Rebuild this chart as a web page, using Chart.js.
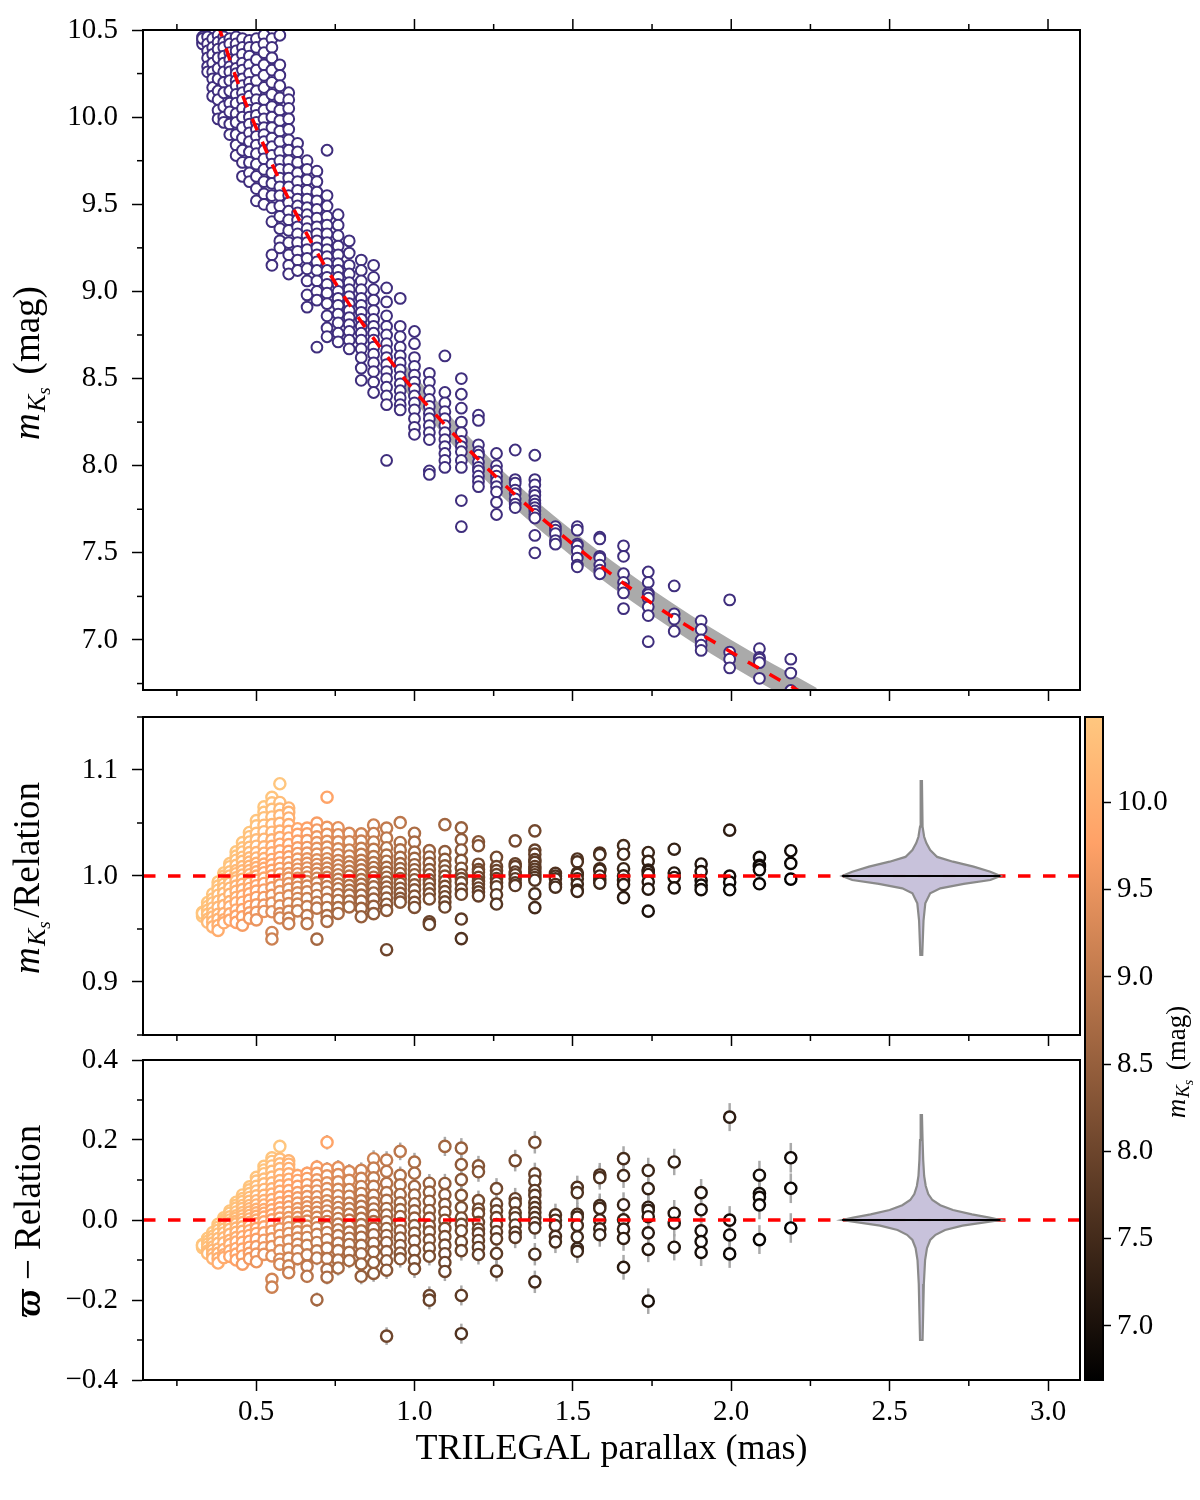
<!DOCTYPE html>
<html><head><meta charset="utf-8">
<script src="https://cdn.jsdelivr.net/npm/chart.js"></script>
<style>
html,body{margin:0;padding:0;background:#fff;}
#wrap{position:relative;width:1200px;height:1500px;background:#fff;}
canvas{position:absolute;}
</style></head><body>
<div id="wrap">
<canvas id="cTop" width="1200" height="710" style="left:0;top:0"></canvas>
<canvas id="cMid" width="1200" height="355" style="left:0;top:700px"></canvas>
<canvas id="cBot" width="1200" height="455" style="left:0;top:1045px"></canvas>
<canvas id="cBar" width="120" height="700" style="left:1080px;top:700px"></canvas>
</div>
<script>
// ---------------- DATA ----------------
// TRILEGAL parallax columns (mas)
const plxCols = [0.331,0.347,0.363,0.380,0.398,0.417,0.437,0.457,0.479,0.501,0.525,0.550,0.575,0.603,0.631,0.661,0.692,0.724,0.759,0.794,0.832,0.871,0.912,0.955,1.000,1.047,1.096,1.148,1.202,1.259,1.318,1.380,1.445,1.514,1.585,1.660,1.738,1.820,1.905,1.995,2.089,2.188];
// m_Ks values of the stars in each parallax column (mag)
const magCols = [
 [10.46,10.44,10.42,10.45],
 [10.46,10.42,10.38,10.34,10.29,10.26],
 [10.45,10.40,10.36,10.31,10.26,10.22,10.17,10.12],
 [10.47,10.43,10.39,10.34,10.28,10.22,10.15,10.10,10.04,9.99],
 [10.46,10.43,10.40,10.35,10.31,10.26,10.20,10.14,10.06,10.00,9.97],
 [10.45,10.42,10.37,10.33,10.29,10.26,10.21,10.15,10.08,10.03,9.96,9.90],
 [10.46,10.42,10.38,10.33,10.28,10.25,10.21,10.18,10.13,10.08,10.02,9.97,9.90,9.84,9.78],
 [10.45,10.40,10.36,10.31,10.27,10.22,10.18,10.14,10.10,10.05,10.00,9.94,9.88,9.81,9.74,9.66],
 [10.44,10.40,10.35,10.30,10.25,10.20,10.16,10.12,10.08,10.04,10.00,9.96,9.91,9.86,9.80,9.74,9.68,9.63],
 [10.45,10.40,10.33,10.27,10.21,10.15,10.10,10.05,10.01,9.97,9.93,9.89,9.84,9.79,9.73,9.66,9.59,9.52],
 [10.47,10.42,10.37,10.30,10.24,10.17,10.10,10.04,9.99,9.94,9.90,9.86,9.81,9.76,9.70,9.63,9.56,9.50],
 [10.45,10.40,10.34,10.27,10.20,10.13,10.06,10.00,9.94,9.88,9.83,9.78,9.73,9.68,9.62,9.55,9.48,9.40,9.21,9.15],
 [10.47,10.30,10.24,10.18,10.11,10.04,9.98,9.92,9.86,9.80,9.75,9.70,9.65,9.60,9.55,9.49,9.43,9.36,9.29,9.25],
 [10.14,10.10,10.05,9.99,9.93,9.87,9.81,9.75,9.70,9.65,9.60,9.55,9.51,9.46,9.41,9.35,9.28,9.21,9.15,9.10],
 [9.85,9.80,9.74,9.68,9.63,9.58,9.53,9.49,9.45,9.41,9.37,9.33,9.28,9.23,9.18,9.12],
 [9.75,9.70,9.64,9.58,9.53,9.48,9.44,9.40,9.36,9.32,9.28,9.24,9.19,9.13,9.06,8.98,8.91],
 [9.69,9.63,9.57,9.52,9.47,9.42,9.37,9.33,9.29,9.25,9.21,9.17,9.12,9.06,9.00,8.95,8.68],
 [9.81,9.55,9.49,9.43,9.38,9.33,9.28,9.24,9.20,9.16,9.12,9.08,9.04,8.99,8.93,8.86,8.79,8.74],
 [9.44,9.38,9.32,9.26,9.21,9.16,9.12,9.08,9.04,9.00,8.96,8.92,8.87,8.82,8.76,8.71],
 [9.29,9.22,9.15,9.10,9.05,9.01,8.97,8.93,8.89,8.85,8.81,8.77,8.72,8.67],
 [9.18,9.12,9.06,9.01,8.96,8.92,8.88,8.84,8.80,8.76,8.72,8.67,8.62,8.56,8.49],
 [9.15,9.08,9.01,8.95,8.89,8.84,8.80,8.76,8.72,8.68,8.64,8.59,8.54,8.48,8.42],
 [9.02,8.94,8.86,8.80,8.75,8.70,8.66,8.62,8.58,8.54,8.50,8.45,8.40,8.35,8.03],
 [8.96,8.80,8.74,8.68,8.63,8.59,8.55,8.51,8.47,8.43,8.39,8.35,8.32],
 [8.77,8.70,8.62,8.57,8.52,8.48,8.44,8.40,8.36,8.32,8.27,8.22,8.18],
 [8.53,8.48,8.43,8.38,8.34,8.30,8.27,8.23,8.19,8.15,7.97,7.95],
 [8.63,8.42,8.36,8.31,8.27,8.23,8.19,8.15,8.11,8.07,8.03,7.99],
 [8.50,8.41,8.33,8.25,8.19,8.14,8.11,8.08,8.03,7.99,7.80,7.65],
 [8.29,8.26,8.12,8.08,8.06,8.02,7.99,7.97,7.94,7.91,7.88],
 [8.07,8.00,7.97,7.94,7.91,7.88,7.85,7.79,7.72],
 [8.09,7.92,7.90,7.86,7.84,7.81,7.78,7.76],
 [8.06,7.92,7.89,7.85,7.83,7.80,7.78,7.76,7.74,7.72,7.70,7.60,7.50],
 [7.65,7.63,7.61,7.57,7.55],
 [7.65,7.63,7.55,7.54,7.51,7.47,7.43,7.42],
 [7.59,7.58,7.48,7.47,7.43,7.40,7.38],
 [7.54,7.48,7.38,7.33,7.30,7.27,7.18],
 [7.39,7.33,7.27,7.26,7.24,7.19,7.14,6.99],
 [7.31,7.15,7.12,7.05],
 [7.11,7.06,7.00,6.97,6.94],
 [7.23,6.93,6.89,6.84],
 [6.95,6.90,6.89,6.87,6.78],
 [6.89,6.81,6.71]
];
// parallax uncertainty per column (mas), grey error bars in the lowest panel
const errCols = [0.010,0.010,0.011,0.011,0.012,0.012,0.013,0.013,0.014,0.014,0.015,0.015,0.016,0.016,0.017,0.017,0.018,0.018,0.019,0.019,0.020,0.021,0.022,0.022,0.023,0.023,0.024,0.025,0.025,0.026,0.027,0.028,0.028,0.029,0.030,0.031,0.032,0.033,0.034,0.035,0.036,0.037];

// Relation (red dashed curve, top panel)
const relationPlx = [0.38,0.45,0.50,0.60,0.70,0.80,0.90,1.00,1.25,1.50,1.75,2.00,2.27];
const relationMag = [10.53,10.16,9.94,9.54,9.20,8.91,8.66,8.43,7.95,7.55,7.21,6.93,6.65];
// zero point of that relation: m = REL_ZP - 5 log10(parallax)
const REL_ZP = 8.43;
// grey uncertainty band around the relation
const bandPlx   = [0.95,1.25,1.50,1.75,2.00,2.27];
const bandUpper = [8.62,8.02,7.625,7.29,7.00,6.725];
const bandLower = [8.47,7.87,7.475,7.14,6.85,6.575];

// violin summaries (value, half width in parallax units)
const violinCenter = 2.6;
const violinMidVals = [1.0906,1.0465,1.037,1.031,1.0245,1.018,1.0135,1.0088,1.004,1.0,0.9962,0.9925,0.9884,0.9837,0.9742,0.958,0.9255];
const violinMidHalf = [0.002,0.004,0.009,0.016,0.028,0.05,0.10,0.165,0.218,0.25,0.218,0.134,0.06,0.028,0.0126,0.007,0.003];
const violinBotVals = [0.265,0.20,0.15,0.11,0.085,0.065,0.05,0.037,0.025,0.014,0.006,0.0,-0.006,-0.014,-0.025,-0.037,-0.05,-0.07,-0.10,-0.16,-0.23,-0.30];
const violinBotHalf = [0.002,0.004,0.006,0.009,0.014,0.022,0.035,0.06,0.10,0.16,0.215,0.25,0.20,0.13,0.075,0.045,0.028,0.018,0.012,0.008,0.006,0.004];
const violinMedianMid = 1.0;
const violinMedianBot = 0.0;
const refLineMid = 1.0;
const refLineBot = 0.0;

// axes
const xRange = [0.143, 3.101];
const yRangeTop = [6.713, 10.5];
const yRangeMid = [0.85, 1.15];
const yRangeBot = [-0.4, 0.4];
const cbarRange = [6.69, 10.49];
const xTicks = [0.5,1.0,1.5,2.0,2.5,3.0];
const xMinorTicks = [0.25,0.75,1.25,1.75,2.25,2.75];
const yTicksTop = [7.0,7.5,8.0,8.5,9.0,9.5,10.0,10.5];
const yMinorTop = [6.75,7.25,7.75,8.25,8.75,9.25,9.75,10.25];
const yTicksMid = [0.9,1.0,1.1];
const yMinorMid = [0.85,0.95,1.05,1.15];
const yTicksBot = [-0.4,-0.2,0.0,0.2,0.4];
const yMinorBot = [-0.3,-0.1,0.1,0.3];
const cbarTicks = [7.0,7.5,8.0,8.5,9.0,9.5,10.0];

// ---------------- STYLE ----------------
const FONT = "'Liberation Serif','DejaVu Serif','Times New Roman',serif";
const TICKFONT = {family: FONT, size: 29};
const PURPLE = '#3f2e7d';
const RED = '#ff0000';

function copperT(t) {
  t = Math.max(0, Math.min(1, t));
  const r = Math.min(1, t / 0.809524), g = 0.7812 * t, b = 0.4975 * t;
  return 'rgb(' + Math.round(r*255) + ',' + Math.round(g*255) + ',' + Math.round(b*255) + ')';
}
function copper(m) { return copperT((m - cbarRange[0]) / (cbarRange[1] - cbarRange[0])); }
function fmt(v) { return (v < -1e-9 ? '\u2212' : '') + Math.abs(v).toFixed(1); }

// ---------------- derived series ----------------
const stars = [];
plxCols.forEach((p, i) => magCols[i].forEach(m => stars.push({p: p, m: m, e: errCols[i]})));
const topPts = stars.map(s => ({x: s.p, y: s.m}));
const midPts = stars.map(s => ({x: s.p, y: s.m / (REL_ZP - 5 * Math.log10(s.p))}));
const botPts = stars.map(s => ({x: s.p, y: s.p - Math.pow(10, (REL_ZP - s.m) / 5)}));
const starColors = stars.map(s => copper(s.m));

function violinPoly(vals, half) {
  const right = vals.map((v, i) => ({x: violinCenter + half[i], y: v}));
  const left = vals.map((v, i) => ({x: violinCenter - half[i], y: v})).reverse();
  return right.concat(left);
}
function widest(half) { return Math.max.apply(null, half); }

// ---------------- helpers ----------------
function drawRotRich(ctx, bx, cy, parts) {
  ctx.save();
  ctx.translate(bx, cy);
  ctx.rotate(-Math.PI / 2);
  ctx.fillStyle = '#000';
  ctx.textBaseline = 'alphabetic';
  ctx.textAlign = 'left';
  let total = 0;
  parts.forEach(p => { ctx.font = p.f; p.w = ctx.measureText(p.t).width + (p.gap || 0); total += p.w; });
  let x = -total / 2;
  parts.forEach(p => { ctx.font = p.f; ctx.fillText(p.t, x, p.dy || 0); x += p.w; });
  ctx.restore();
}
function mKsParts(size) {
  return [
    {t: 'm', f: 'italic ' + size + 'px ' + FONT, gap: size * 0.03},
    {t: 'K', f: 'italic ' + Math.round(size * 0.7) + 'px ' + FONT, dy: size * 0.16},
    {t: 's', f: 'italic ' + Math.round(size * 0.5) + 'px ' + FONT, dy: size * 0.3, gap: size * 0.1}
  ];
}

function decor(cfg) {
  return {
    id: 'decor',
    beforeDatasetsDraw(chart) {
      if (!cfg.errors) return;
      const ctx = chart.ctx, a = chart.chartArea, xs = chart.scales.x, ys = chart.scales.y;
      ctx.save();
      ctx.beginPath(); ctx.rect(a.left, a.top, a.right - a.left, a.bottom - a.top); ctx.clip();
      ctx.strokeStyle = 'rgba(165,165,165,0.95)';
      ctx.lineWidth = 2.5;
      cfg.errors.forEach(p => {
        const px = xs.getPixelForValue(p.x);
        ctx.beginPath();
        ctx.moveTo(px, ys.getPixelForValue(p.y - p.e));
        ctx.lineTo(px, ys.getPixelForValue(p.y + p.e));
        ctx.stroke();
      });
      ctx.restore();
    },
    afterDraw(chart) {
      const ctx = chart.ctx, a = chart.chartArea;
      ctx.save();
      ctx.strokeStyle = '#000';
      ctx.lineWidth = 2;
      ctx.strokeRect(a.left, a.top, a.right - a.left, a.bottom - a.top);
      ctx.lineWidth = 1.5;
      const tick = (x1, y1, x2, y2) => { ctx.beginPath(); ctx.moveTo(x1, y1); ctx.lineTo(x2, y2); ctx.stroke(); };
      if (cfg.xMinor) {
        const xs = chart.scales.x;
        cfg.xMinor.forEach(v => { const p = xs.getPixelForValue(v); tick(p, a.bottom, p, a.bottom + 6); if (cfg.topTicks) tick(p, a.top, p, a.top - 6); });
        if (cfg.topTicks) cfg.xMajor.forEach(v => { const p = xs.getPixelForValue(v); tick(p, a.top, p, a.top - 11); });
      }
      if (cfg.yMinor) {
        const ys = chart.scales.y;
        cfg.yMinor.forEach(v => { const p = ys.getPixelForValue(v); tick(a.left, p, a.left - 6, p); });
      }
      (cfg.titles || []).forEach(t => drawRotRich(ctx, t.x, t.y, t.parts));
      ctx.restore();
    }
  };
}

function noPad(ax) { ax.paddingTop = 0; ax.paddingBottom = 0; ax.paddingLeft = 0; ax.paddingRight = 0; }
function xAxis(showLabels, height, title) {
  return {
    type: 'linear', min: xRange[0], max: xRange[1],
    afterBuildTicks: ax => { ax.ticks = xTicks.map(v => ({value: v})); },
    ticks: {display: showLabels, font: TICKFONT, color: '#000', padding: 4, maxRotation: 0, autoSkip: false, callback: v => fmt(v)},
    grid: {drawOnChartArea: false, drawTicks: true, tickLength: 11, tickWidth: 1.5, tickColor: '#000'},
    border: {display: true, color: '#000', width: 2},
    title: title ? {display: true, text: title, font: {family: FONT, size: 36}, color: '#000', padding: {top: 4, bottom: 4}} : {display: false},
    afterFit: ax => { ax.height = height; noPad(ax); }
  };
}
function yAxis(range, ticks) {
  return {
    type: 'linear', min: range[0], max: range[1],
    afterBuildTicks: ax => { ax.ticks = ticks.map(v => ({value: v})); },
    ticks: {font: TICKFONT, color: '#000', padding: 14, autoSkip: false, callback: v => fmt(v)},
    grid: {drawOnChartArea: false, drawTicks: true, tickLength: 11, tickWidth: 1.5, tickColor: '#000'},
    border: {display: true, color: '#000', width: 2},
    afterFit: ax => { ax.width = 143; noPad(ax); }
  };
}
const baseOpts = {
  responsive: false, animation: false, events: [],
  plugins: {legend: {display: false}, tooltip: {enabled: false}}
};

// ---------------- TOP PANEL ----------------
new Chart(document.getElementById('cTop'), {
  type: 'scatter',
  data: {datasets: [
    {label: 'Relation', data: relationPlx.map((x, i) => ({x: x, y: relationMag[i]})), showLine: true,
     borderColor: RED, borderWidth: 3.5, borderDash: [12.5, 12.5], pointRadius: 0, cubicInterpolationMode: 'monotone', clip: 0, order: 0},
    {label: 'stars', data: topPts, pointRadius: 5.4, pointBorderWidth: 2, pointBorderColor: PURPLE,
     pointBackgroundColor: '#ffffff', clip: 0, order: 1},
    {label: 'band upper', data: bandPlx.map((x, i) => ({x: x, y: bandUpper[i]})), showLine: true, borderWidth: 0,
     pointRadius: 0, fill: '+1', backgroundColor: '#aaaaaa', cubicInterpolationMode: 'monotone', clip: 0, order: 2},
    {label: 'band lower', data: bandPlx.map((x, i) => ({x: x, y: bandLower[i]})), showLine: true, borderWidth: 0,
     pointRadius: 0, cubicInterpolationMode: 'monotone', clip: 0, order: 2}
  ]},
  options: Object.assign({}, baseOpts, {
    layout: {padding: {left: 0, right: 120, top: 30, bottom: 0}},
    scales: {x: xAxis(false, 20), y: yAxis(yRangeTop, yTicksTop)}
  }),
  plugins: [decor({xMinor: xMinorTicks, xMajor: xTicks, topTicks: true, yMinor: yMinorTop,
    titles: [{x: 39, y: 363, parts: mKsParts(37).concat([{t: ' (mag)', f: '37px ' + FONT}])}]})]
});

// ---------------- MIDDLE PANEL ----------------
function residualDatasets(points, refY, vVals, vHalf, median) {
  const w = widest(vHalf);
  return [
    {label: 'median', data: [{x: violinCenter - w, y: median}, {x: violinCenter + w, y: median}], showLine: true,
     borderColor: '#000', borderWidth: 2, pointRadius: 0, clip: 0, order: -2},
    {label: 'violin', data: violinPoly(vVals, vHalf), showLine: true, fill: 'shape',
     backgroundColor: 'rgba(198,192,218,0.97)', borderColor: '#8a8a8a', borderWidth: 2.2, pointRadius: 0, clip: 0, order: -1},
    {label: 'reference', data: [{x: xRange[0], y: refY}, {x: xRange[1], y: refY}], showLine: true,
     borderColor: RED, borderWidth: 3.5, borderDash: [12.5, 12.5], pointRadius: 0, clip: 0, order: 0},
    {label: 'stars', data: points, pointRadius: 5.6, pointBorderWidth: 2.4, pointBorderColor: starColors,
     pointBackgroundColor: '#ffffff', clip: 0, order: 1}
  ];
}
new Chart(document.getElementById('cMid'), {
  type: 'scatter',
  data: {datasets: residualDatasets(midPts, refLineMid, violinMidVals, violinMidHalf, violinMedianMid)},
  options: Object.assign({}, baseOpts, {
    layout: {padding: {left: 0, right: 120, top: 17, bottom: 0}},
    scales: {x: xAxis(false, 20), y: yAxis(yRangeMid, yTicksMid)}
  }),
  plugins: [decor({xMinor: xMinorTicks, xMajor: xTicks, yMinor: yMinorMid,
    titles: [{x: 39, y: 178, parts: mKsParts(37).concat([{t: '/Relation', f: '37px ' + FONT}])}]})]
});

// ---------------- BOTTOM PANEL ----------------
new Chart(document.getElementById('cBot'), {
  type: 'scatter',
  data: {datasets: residualDatasets(botPts, refLineBot, violinBotVals, violinBotHalf, violinMedianBot)},
  options: Object.assign({}, baseOpts, {
    layout: {padding: {left: 0, right: 120, top: 15, bottom: 25}},
    scales: {x: xAxis(true, 95, 'TRILEGAL parallax (mas)'), y: yAxis(yRangeBot, yTicksBot)}
  }),
  plugins: [decor({xMinor: xMinorTicks, xMajor: xTicks, yMinor: yMinorBot,
    errors: botPts.map((p, i) => ({x: p.x, y: p.y, e: stars[i].e})),
    titles: [{x: 40, y: 176, parts: [{t: '\u03D6', f: 'bold italic 37px ' + FONT}, {t: ' \u2212 Relation', f: '37px ' + FONT}]}]})]
});

// ---------------- COLORBAR ----------------
function cbarGradient(chart) {
  const a = chart.chartArea;
  if (!a || !chart.scales.y) return '#a06030';
  const ys = chart.scales.y;
  const g = chart.ctx.createLinearGradient(0, ys.getPixelForValue(cbarRange[0]), 0, ys.getPixelForValue(cbarRange[1]));
  [0, 0.2, 0.4, 0.6, 0.809524, 0.9, 1].forEach(t => g.addColorStop(t, copperT(t)));
  return g;
}
new Chart(document.getElementById('cBar'), {
  type: 'bar',
  data: {labels: [''], datasets: [{data: [[cbarRange[0], cbarRange[1]]], backgroundColor: c => cbarGradient(c.chart),
    barPercentage: 1, categoryPercentage: 1, borderWidth: 0}]},
  options: Object.assign({}, baseOpts, {
    layout: {padding: {left: 5, right: 0, top: 17, bottom: 20}},
    scales: {
      x: {display: false},
      y: {position: 'right', min: cbarRange[0], max: cbarRange[1],
          afterBuildTicks: ax => { ax.ticks = cbarTicks.map(v => ({value: v})); },
          ticks: {font: TICKFONT, color: '#000', padding: 6, autoSkip: false, callback: v => fmt(v)},
          grid: {drawOnChartArea: false, drawTicks: true, tickLength: 8, tickWidth: 1.5, tickColor: '#000'},
          border: {display: true, color: '#000', width: 2},
          afterFit: ax => { ax.width = 97; noPad(ax); }}
    }
  }),
  plugins: [decor({titles: [{x: 105, y: 362, parts: mKsParts(27).concat([{t: ' (mag)', f: '27px ' + FONT}])}]})]
});
</script>
</body></html>
